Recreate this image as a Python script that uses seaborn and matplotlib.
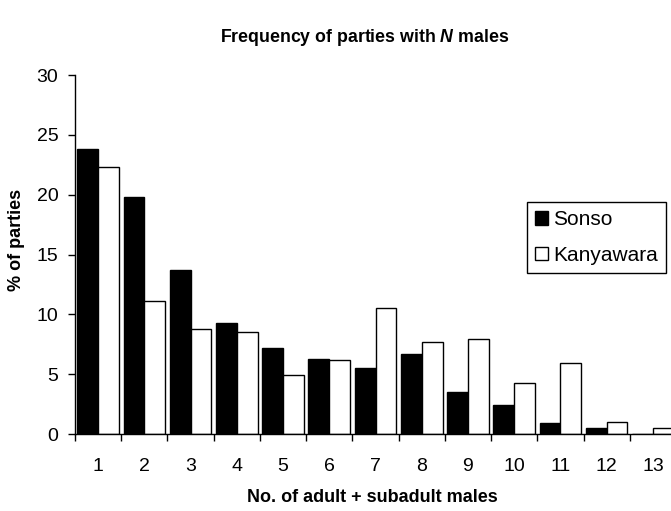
import matplotlib
matplotlib.use("Agg")
import matplotlib.pyplot as plt
import matplotlib.ticker as mticker
from matplotlib.patches import Patch
import numpy as np
import pandas as pd
import seaborn as sns

# Party size categories (number of adult + subadult males)
n_males = ["1", "2", "3", "4", "5", "6", "7", "8", "9", "10", "11", "12", "13"]
# Percentage of parties at each site
sonso = [23.8, 19.8, 13.7, 9.3, 7.2, 6.3, 5.5, 6.7, 3.5, 2.4, 0.9, 0.5, 0.0]
kanyawara = [22.3, 11.1, 8.8, 8.5, 4.9, 6.2, 10.5, 7.7, 7.9, 4.3, 5.9, 1.0, 0.5]
sites = ["Sonso", "Kanyawara"]

df = pd.DataFrame({
    "males": n_males * 2,
    "site": [sites[0]] * len(n_males) + [sites[1]] * len(n_males),
    "pct": sonso + kanyawara,
})

sns.set_style("white")
plt.rcParams["font.family"] = ["Liberation Sans", "DejaVu Sans"]
plt.rcParams["text.color"] = "black"
plt.rcParams["xtick.color"] = "black"
plt.rcParams["ytick.color"] = "black"
plt.rcParams["axes.labelcolor"] = "black"
plt.rcParams["mathtext.fontset"] = "custom"
plt.rcParams["mathtext.it"] = "Liberation Sans:italic:bold"
plt.rcParams["mathtext.rm"] = "Liberation Sans:bold"

fig = plt.figure(figsize=(6.71, 5.11), dpi=100)
ax = fig.add_axes([75 / 671, 77 / 511, 601 / 671, 359 / 511])

sns.barplot(data=df, x="males", y="pct", hue="site", order=n_males,
            hue_order=sites, palette=["black", "white"], edgecolor="black",
            linewidth=1.0, width=0.9, ax=ax, legend=False)

ax.set_xlim(-0.5, len(n_males) - 0.5)
ax.set_ylim(0, 30)
ax.set_yticks(np.arange(0, 31, 5))

# Tick marks at category boundaries, labels at category centres
ax.xaxis.set_major_locator(mticker.FixedLocator(np.arange(-0.5, len(n_males), 1.0)))
ax.xaxis.set_major_formatter(mticker.NullFormatter())
ax.xaxis.set_minor_locator(mticker.FixedLocator(np.arange(len(n_males))))
ax.xaxis.set_minor_formatter(mticker.FixedFormatter(n_males))
ax.tick_params(axis="x", which="major", bottom=True, direction="out", length=5,
               width=1, color="black")
ax.tick_params(axis="x", which="minor", bottom=True, length=0, pad=17,
               labelsize=14, labelcolor="black")
ax.tick_params(axis="y", left=True, direction="out", length=5, width=1,
               color="black", pad=7, labelsize=14, labelcolor="black")

for side in ["top", "right"]:
    ax.spines[side].set_visible(False)
for side in ["left", "bottom"]:
    ax.spines[side].set_color("black")
    ax.spines[side].set_linewidth(1.0)

ax.set_xlabel("")
ax.set_ylabel("")
fig.text(372 / 671, 1 - 497 / 511, "No. of adult + subadult males", ha="center",
         va="center", fontsize=13, fontweight="bold", color="black")
fig.text(17 / 671, 1 - 240 / 511, "% of parties", ha="center", va="center",
         rotation=90, fontsize=13, fontweight="bold", color="black")
fig.text(365 / 671, 1 - 38 / 511, r"Frequency of parties with $\mathit{N}$ males",
         ha="center", va="center", fontsize=12.75, fontweight="bold", color="black")

handles = [Patch(facecolor="black", edgecolor="black", linewidth=1.0),
           Patch(facecolor="white", edgecolor="black", linewidth=1.0)]
leg = ax.legend(handles, sites, loc="upper left", bbox_to_anchor=(0.752, 0.646),
                borderaxespad=0, frameon=True, fancybox=False, framealpha=1,
                fontsize=15, handlelength=0.6, handleheight=0.6,
                handletextpad=0.25, labelspacing=0.8, borderpad=0.4)
leg.get_frame().set_edgecolor("black")
leg.get_frame().set_linewidth(1.0)
for t in leg.get_texts():
    t.set_color("black")

fig.savefig("out.png", dpi=100)
